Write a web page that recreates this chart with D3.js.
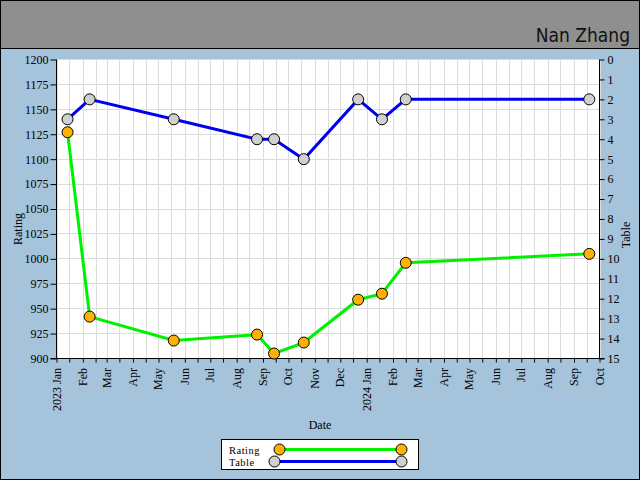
<!DOCTYPE html>
<html><head><meta charset="utf-8">
<script src="https://cdn.jsdelivr.net/npm/d3@7"></script>
<style>html,body{margin:0;padding:0;background:#a6c3dc;}svg{display:block;}</style>
</head><body>
<svg id="c" width="640" height="480"></svg>
<script>
const dates = ["2023-01-14","2023-02-09","2023-05-19","2023-08-25","2023-09-14","2023-10-19","2023-12-22","2024-01-19","2024-02-16","2024-09-19"];
const rating = [1127, 942, 918, 924, 905, 916, 959, 965, 996, 1005];
const table = [3, 2, 3, 4, 4, 5, 2, 3, 2, 2];
const ratingTicks = [900, 925, 950, 975, 1000, 1025, 1050, 1075, 1100, 1125, 1150, 1175, 1200];
const tableTicks = [0, 1, 2, 3, 4, 5, 6, 7, 8, 9, 10, 11, 12, 13, 14, 15];
const monthNames = ["Jan","Feb","Mar","Apr","May","Jun","Jul","Aug","Sep","Oct","Nov","Dec"];
const xDomain = ["2023-01-01", "2024-10-01"];
const seriesNames = ["Rating", "Table"];
const titleText = "Nan Zhang";

const svg = d3.select("#c");
const W = 640, H = 480;
const L = 56.5, R = 599.5, T = 59.5, B = 358.5;
const serif = "'Liberation Serif','DejaVu Serif',serif";

svg.append("rect").attr("x",0).attr("y",0).attr("width",W).attr("height",H).attr("fill","#a6c3dc");
svg.append("rect").attr("x",0.5).attr("y",0.5).attr("width",W-1).attr("height",48).attr("fill","#8f8f8f").attr("stroke","#000");

svg.append("text").attr("x",630).attr("y",42).attr("text-anchor","end")
  .attr("font-family","'DejaVu Sans Condensed','DejaVu Sans',sans-serif").attr("font-size",19).attr("font-weight",300)
  .attr("fill","#111").text(titleText);

const parse = d3.utcParse("%Y-%m-%d");
const x = d3.scaleUtc().domain(xDomain.map(parse)).range([L, R]);
const yR = d3.scaleLinear().domain([900,1200]).range([B, T]);
const yT = d3.scaleLinear().domain([0,15]).range([T, B]);

// plot background
svg.append("rect").attr("x",L).attr("y",T).attr("width",R-L).attr("height",B-T).attr("fill","#fff");

// semi-monthly ticks
const months = d3.utcMonth.range(parse(xDomain[0]), d3.utcDay.offset(parse(xDomain[1]),1));
const semi = [];
months.forEach(m => { semi.push(m); const d16 = d3.utcDay.offset(m,15); if (d16 < parse(xDomain[1])) semi.push(d16); });

const grid = svg.append("g").attr("stroke","#dcdcdc").attr("stroke-width",1);
semi.forEach(d => { const px = Math.round(x(d))+0.5; grid.append("line").attr("x1",px).attr("x2",px).attr("y1",T).attr("y2",B); });
ratingTicks.forEach(v => { const py = Math.round(yR(v)-0.5)+0.5; grid.append("line").attr("x1",L).attr("x2",R).attr("y1",py).attr("y2",py); });

// axes
const axL = svg.append("g").attr("transform",`translate(${L},0)`)
  .call(d3.axisLeft(yR).tickValues(ratingTicks).tickSize(6).tickPadding(2).tickFormat(d3.format("d")));
const axR = svg.append("g").attr("transform",`translate(${R},0)`)
  .call(d3.axisRight(yT).tickValues(tableTicks).tickSize(5).tickPadding(3).tickFormat(d3.format("d")));
const axB = svg.append("g").attr("transform",`translate(0,${B})`)
  .call(d3.axisBottom(x).tickValues(semi).tickSize(4).tickFormat(""));
[axL, axR, axB].forEach(a => {
  a.selectAll(".tick line").attr("stroke","#000");
  a.selectAll("text").attr("font-family",serif).attr("font-size",12).attr("fill","#000");
  a.select(".domain").remove();
});
svg.append("line").attr("x1",L).attr("x2",L).attr("y1",T).attr("y2",B).attr("stroke","#000");
svg.append("line").attr("x1",R).attr("x2",R).attr("y1",T).attr("y2",B).attr("stroke","#000");
svg.append("line").attr("x1",L-6).attr("x2",R+5).attr("y1",B).attr("y2",B).attr("stroke","#000");

// month labels
const fmtLabel = d => (d.getUTCMonth()===0 ? d.getUTCFullYear()+" " : "") + monthNames[d.getUTCMonth()];
svg.append("g").selectAll("text").data(months).join("text")
  .attr("transform", d => `translate(${x(d)+4},${368}) rotate(-90)`)
  .attr("text-anchor","end").attr("font-family",serif).attr("font-size",12).attr("fill","#000")
  .text(fmtLabel);

// axis titles
svg.append("text").attr("transform","translate(22,229) rotate(-90)").attr("text-anchor","middle")
  .attr("font-family",serif).attr("font-size",12).text(seriesNames[0]);
svg.append("text").attr("transform","translate(630,235) rotate(-90)").attr("text-anchor","middle")
  .attr("font-family",serif).attr("font-size",12).text(seriesNames[1]);
svg.append("text").attr("x",320).attr("y",429).attr("text-anchor","middle")
  .attr("font-family",serif).attr("font-size",12).text("Date");

// series
const pts = dates.map((d,i) => ({d: parse(d), r: rating[i], t: table[i]}));
svg.append("path").datum(pts).attr("fill","none").attr("stroke","#00f000").attr("stroke-width",3)
  .attr("d", d3.line().x(p => x(p.d)).y(p => yR(p.r)));
svg.append("path").datum(pts).attr("fill","none").attr("stroke","#0000f0").attr("stroke-width",3)
  .attr("d", d3.line().x(p => x(p.d)).y(p => yT(p.t)));
svg.append("g").selectAll("circle").data(pts).join("circle")
  .attr("cx", p => x(p.d)).attr("cy", p => yR(p.r)).attr("r",5.5)
  .attr("fill","#ffb000").attr("stroke","#000").attr("stroke-width",1);
svg.append("g").selectAll("circle").data(pts).join("circle")
  .attr("cx", p => x(p.d)).attr("cy", p => yT(p.t)).attr("r",5.5)
  .attr("fill","#d0d0d0").attr("stroke","#000").attr("stroke-width",1);

// legend
const lg = svg.append("g");
lg.append("rect").attr("x",221.5).attr("y",439.5).attr("width",197).attr("height",30).attr("fill","#fff").attr("stroke","#000");
const legendItems = [
  {name: seriesNames[0], y: 449.5, x0: 279.5, color: "#00f000", fill: "#ffb000"},
  {name: seriesNames[1], y: 461.5, x0: 274.5, color: "#0000f0", fill: "#d0d0d0"}
];
legendItems.forEach(it => {
  lg.append("text").attr("x",229).attr("y",it.y+4).attr("font-family",serif).attr("font-size",10.5)
    .attr("letter-spacing",0.5).text(it.name);
  lg.append("line").attr("x1",it.x0).attr("x2",401.5).attr("y1",it.y).attr("y2",it.y).attr("stroke",it.color).attr("stroke-width",3);
  [it.x0, 401.5].forEach(cx => lg.append("circle").attr("cx",cx).attr("cy",it.y).attr("r",5.5).attr("fill",it.fill).attr("stroke","#000"));
});

// outer border
svg.append("rect").attr("x",0.5).attr("y",0.5).attr("width",W-1).attr("height",H-1).attr("fill","none").attr("stroke","#000");
</script>
</body></html>
